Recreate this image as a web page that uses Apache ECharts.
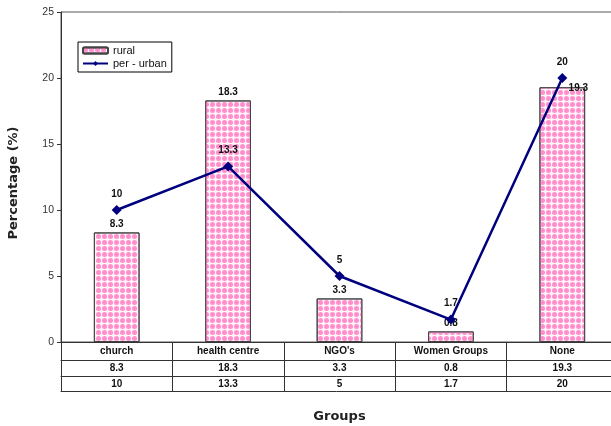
<!DOCTYPE html>
<html>
<head>
<meta charset="utf-8">
<script src="https://cdn.jsdelivr.net/npm/echarts@6/dist/echarts.min.js"></script>
<style>
  html, body { margin: 0; padding: 0; background: #fff; }
  #main { width: 611px; height: 426px; }
</style>
</head>
<body>
<div id="main"></div>
<script>
// data
var groups = ['church', 'health centre', "NGO's", 'Women Groups', 'None'];
var rural = [8.3, 18.3, 3.3, 0.8, 19.3];
var perUrban = [10, 13.3, 5, 1.7, 20];
var yTicks = [0, 5, 10, 15, 20, 25];

var lineCol = '#333';
var smallFont = { fontFamily: 'Liberation Sans', fontSize: 10, fontWeight: 'bold', color: '#111' };

var myChart = echarts.init(document.getElementById('main'));

// table rows are drawn as extra x axes stacked under the plot
function tableAxis(data, offset, showLabel) {
  return {
    type: 'category',
    data: data,
    position: 'bottom',
    offset: offset,
    axisLine: { show: true, lineStyle: { color: lineCol, width: 1 } },
    axisTick: { show: false },
    axisLabel: Object.assign({ show: showLabel, margin: 3, interval: 0 }, smallFont)
  };
}

myChart.setOption({
  animation: false,
  grid: {
    left: 61, top: 12, width: 557, height: 330,
    outerBoundsMode: 'none',
    show: true, borderColor: '#555', borderWidth: 1
  },
  legend: {
    left: 78, top: 42,
    orient: 'vertical',
    padding: [3, 5, 3, 4],
    itemGap: 2,
    itemWidth: 25, itemHeight: 6,
    borderColor: '#000', borderWidth: 1,
    textStyle: { fontFamily: 'Liberation Sans', fontSize: 11, color: '#111' },
    data: ['rural', 'per - urban']
  },
  xAxis: [
    {
      type: 'category',
      data: groups,
      axisLine: { show: true, lineStyle: { color: lineCol } },
      axisTick: { show: true, length: 50, lineStyle: { color: lineCol } },
      axisLabel: Object.assign({ margin: 4, interval: 0 }, smallFont)
    },
    tableAxis(rural.map(String), 18, true),
    tableAxis(perUrban.map(String), 34, true),
    Object.assign(tableAxis(groups, 49, false), {
      name: 'Groups',
      nameLocation: 'middle',
      nameGap: 19,
      nameTextStyle: { fontFamily: 'DejaVu Sans', fontSize: 13, fontWeight: 'bold', color: '#222' }
    })
  ],
  yAxis: {
    type: 'value',
    min: yTicks[0], max: yTicks[yTicks.length - 1], interval: 5,
    name: 'Percentage (%)',
    nameLocation: 'middle',
    nameGap: 41,
    nameTextStyle: { fontFamily: 'DejaVu Sans', fontSize: 13, fontWeight: 'bold', color: '#222', padding: [0, 0, 0, -12] },
    axisLine: { show: true, lineStyle: { color: lineCol } },
    axisTick: { show: true, length: 4, lineStyle: { color: lineCol } },
    axisLabel: { fontFamily: 'Liberation Sans', fontSize: 10.5, color: '#333', margin: 7 },
    splitLine: { show: false }
  },
  series: [
    {
      name: 'rural',
      type: 'bar',
      barWidth: '41%',
      data: rural.map(function (v, i) {
        var d = { value: v };
        if (i === 4) d.label = { offset: [16, 9] };
        return d;
      }),
      itemStyle: {
        color: '#fff4fa',
        borderColor: '#444',
        borderWidth: 1,
        decal: {
          symbol: 'circle',
          symbolSize: 1,
          color: '#ff8fcc',
          dashArrayX: [[5, 1]],
          dashArrayY: [5, 1]
        }
      },
      label: Object.assign({ show: true, position: 'top', distance: 3 }, smallFont)
    },
    {
      name: 'per - urban',
      type: 'line',
      data: perUrban,
      symbol: 'diamond',
      symbolSize: 10,
      lineStyle: { color: '#00007f', width: 2.5 },
      itemStyle: { color: '#00007f' },
      label: Object.assign({ show: true, position: 'top', distance: 6 }, smallFont),
      z: 5
    }
  ]
});
</script>
</body>
</html>
